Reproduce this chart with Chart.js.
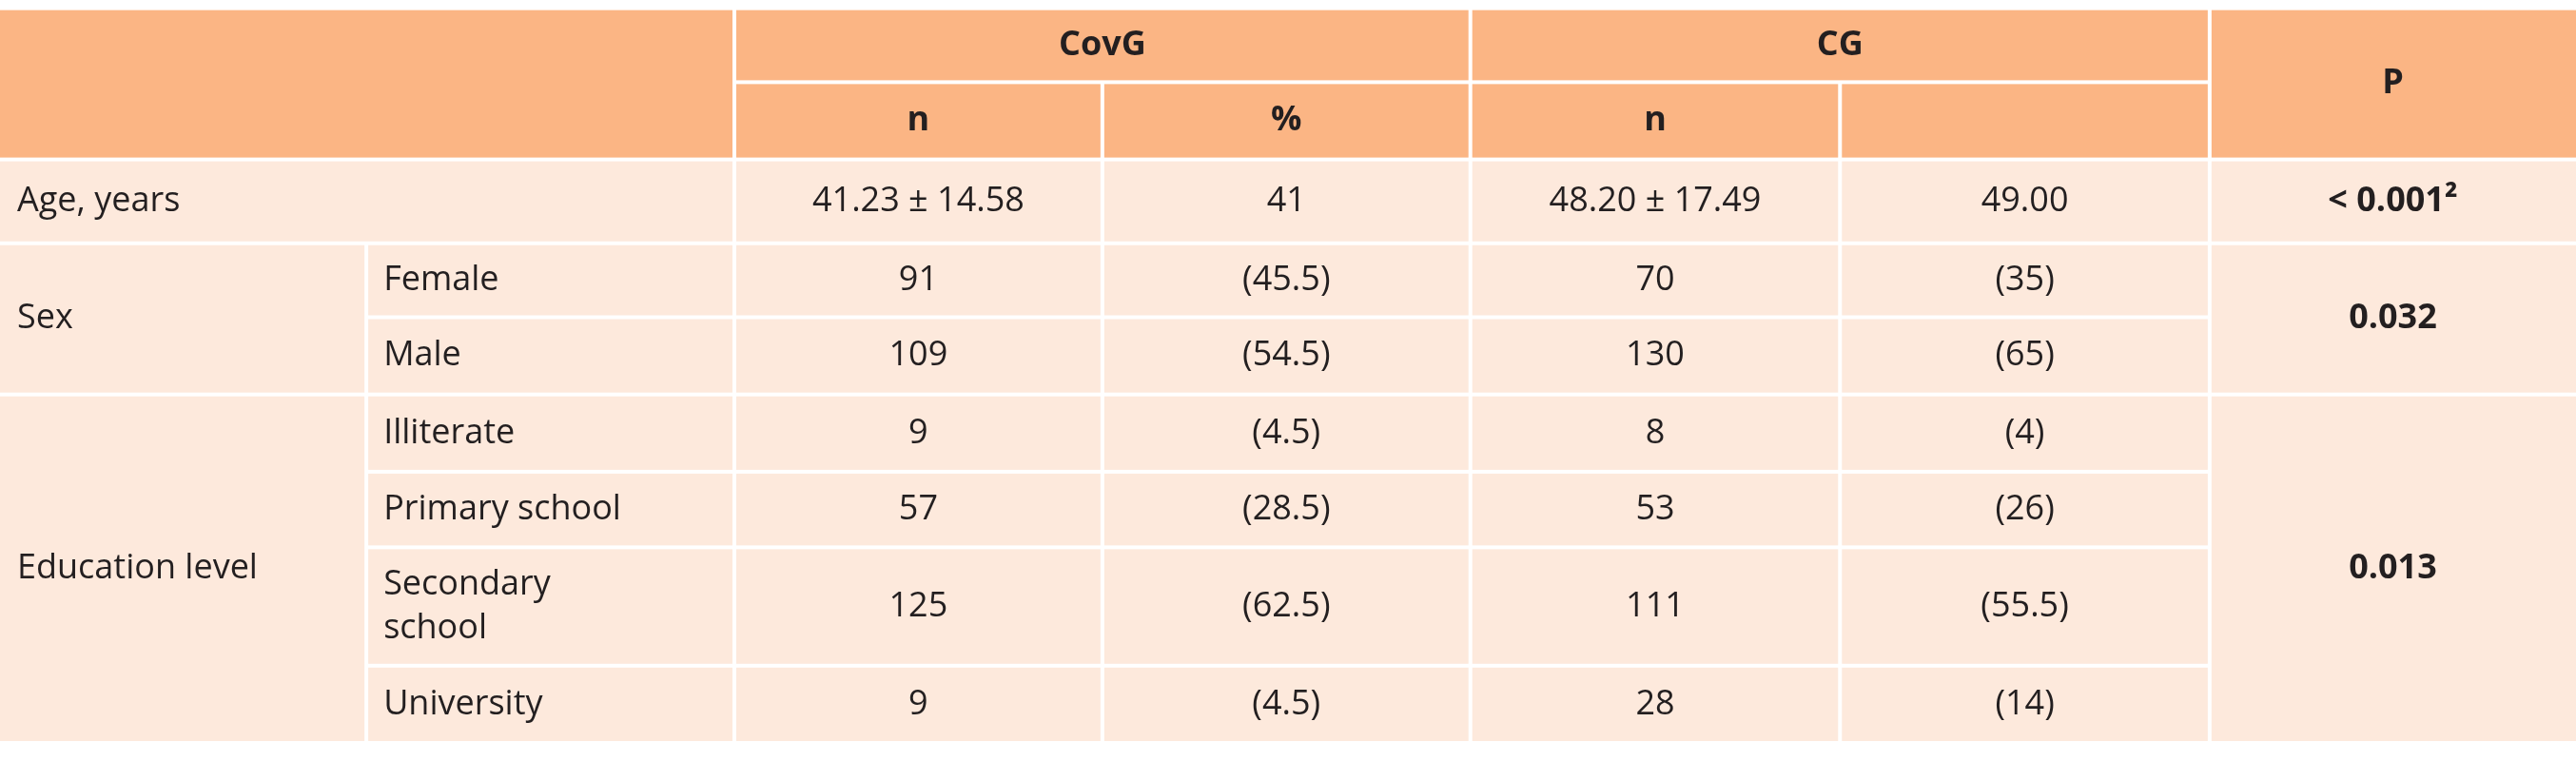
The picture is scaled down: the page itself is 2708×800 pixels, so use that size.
<!DOCTYPE html>
<html>
<head>
<meta charset="utf-8">
<script src="https://cdn.jsdelivr.net/npm/chart.js@4"></script>
<style>
  html, body { margin: 0; padding: 0; background: #ffffff; }
  #wrap { width: 2708px; height: 800px; }
</style>
</head>
<body>
<div id="wrap"><canvas id="tableChart"></canvas></div>
<script>
// ==========================================
// DATA
// ==========================================
const groups = ['CovG', 'CG'];
const subHeaders = ['n', '%', 'n', ''];
const rowGroups = ['Age, years', 'Sex', 'Education level'];
const categories = ['Female', 'Male', 'Illiterate', 'Primary school', 'Secondary\nschool', 'University'];
const ageValues = ['41.23 \u00b1 14.58', '41', '48.20 \u00b1 17.49', '49.00'];
const covgN = ['91', '109', '9', '57', '125', '9'];
const covgPct = ['(45.5)', '(54.5)', '(4.5)', '(28.5)', '(62.5)', '(4.5)'];
const cgN = ['70', '130', '8', '53', '111', '28'];
const cgPct = ['(35)', '(65)', '(4)', '(26)', '(55.5)', '(14)'];
const pValues = ['< 0.001\u00b2', '0.032', '0.013'];

// ==========================================
// LAYOUT (grid lines in scale units)
// ==========================================
const colEdges = [0, 223, 447, 671, 895, 1120, 1345, 1568];
const rowEdges = [5, 50, 97, 148, 193, 240, 287, 333, 405, 452];
const HEAD = '#fbb584';
const BODY = '#fde9dc';

// cell: [c0, c1, r0, r1, text, bold, align, fill]
const cells = [];
cells.push([0, 2, 0, 2, '', false, 'center', HEAD]);
cells.push([2, 4, 0, 1, groups[0], true, 'center', HEAD]);
cells.push([4, 6, 0, 1, groups[1], true, 'center', HEAD]);
cells.push([6, 7, 0, 2, 'P', true, 'center', HEAD]);
subHeaders.forEach((t, i) => cells.push([2 + i, 3 + i, 1, 2, t, true, 'center', HEAD]));

cells.push([0, 2, 2, 3, rowGroups[0], false, 'left', BODY]);
ageValues.forEach((t, i) => cells.push([2 + i, 3 + i, 2, 3, t, false, 'center', BODY]));
cells.push([6, 7, 2, 3, pValues[0], true, 'center', BODY]);

cells.push([0, 1, 3, 5, rowGroups[1], false, 'left', BODY]);
cells.push([0, 1, 5, 9, rowGroups[2], false, 'left', BODY]);
categories.forEach((cat, i) => {
    const r = 3 + i;
    cells.push([1, 2, r, r + 1, cat, false, 'left', BODY]);
    cells.push([2, 3, r, r + 1, covgN[i], false, 'center', BODY]);
    cells.push([3, 4, r, r + 1, covgPct[i], false, 'center', BODY]);
    cells.push([4, 5, r, r + 1, cgN[i], false, 'center', BODY]);
    cells.push([5, 6, r, r + 1, cgPct[i], false, 'center', BODY]);
});
cells.push([6, 7, 3, 5, pValues[1], true, 'center', BODY]);
cells.push([6, 7, 5, 9, pValues[2], true, 'center', BODY]);

// ==========================================
// TABLE PLUGIN
// ==========================================
const tablePlugin = {
    id: 'tablePlugin',
    afterDraw(chart) {
        const ctx = chart.ctx;
        const xs = chart.scales.x, ys = chart.scales.y;
        const gap = 2;
        ctx.save();
        cells.forEach(([c0, c1, r0, r1, text, bold, align, fill]) => {
            const x0 = xs.getPixelForValue(colEdges[c0]);
            const x1 = xs.getPixelForValue(colEdges[c1]);
            const y0 = ys.getPixelForValue(rowEdges[r0]);
            const y1 = ys.getPixelForValue(rowEdges[r1]);
            ctx.fillStyle = fill;
            ctx.fillRect(x0 + (c0 ? gap : 0), y0 + gap, x1 - x0 - (c0 ? gap : 0) - (c1 < 7 ? gap : 0), y1 - y0 - 2 * gap);
            if (!text) return;
            ctx.fillStyle = '#231f20';
            ctx.font = (bold ? 'bold ' : '') + '36px "Open Sans", "Noto Sans", sans-serif';
            ctx.textBaseline = 'middle';
            ctx.textAlign = align;
            const tx = align === 'left' ? x0 + 18 : (x0 + x1) / 2;
            const lines = text.split('\n');
            const lh = 46;
            const cy = (y0 + y1) / 2 - (lines.length - 1) * lh / 2;
            lines.forEach((ln, k) => ctx.fillText(ln, tx, cy + k * lh));
        });
        ctx.restore();
    }
};

new Chart(document.getElementById('tableChart'), {
    type: 'scatter',
    data: { datasets: [{ data: [] }] },
    options: {
        responsive: true,
        maintainAspectRatio: false,
        animation: false,
        layout: { padding: 0 },
        plugins: { legend: { display: false }, tooltip: { enabled: false } },
        scales: {
            x: { type: 'linear', min: 0, max: 1568, display: false },
            y: { type: 'linear', min: 0, max: 463, reverse: true, display: false }
        }
    },
    plugins: [tablePlugin]
});
</script>
</body>
</html>
